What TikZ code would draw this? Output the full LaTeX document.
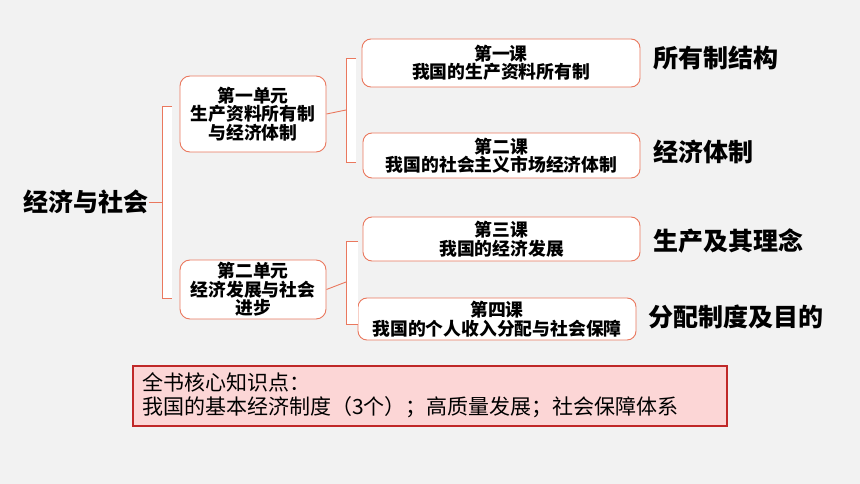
\documentclass[tikz,border=0pt]{standalone}
\usepackage{fontspec}
\setmainfont{Noto Sans CJK SC}
\definecolor{bg}{RGB}{242,242,242}
\definecolor{edge}{RGB}{234,120,94}
\definecolor{sumfill}{RGB}{252,214,214}
\definecolor{sumedge}{RGB}{192,40,40}
\tikzset{
  unitbox/.style={draw=edge, line width=0.9pt, fill=white, rounded corners=10pt,
    inner sep=0pt, align=center, font=\bfseries\fontsize{17.8}{18.5}\selectfont},
  lessonbox/.style={draw=edge, line width=0.9pt, fill=white, rounded corners=9pt,
    inner sep=0pt, align=center, font=\bfseries\fontsize{17.8}{18.5}\selectfont},
  biglabel/.style={anchor=west, inner sep=0pt, font=\bfseries\fontsize{25}{25}\selectfont},
  brace/.style={draw=edge, line width=0.9pt, fill=white},
  tipline/.style={draw=edge, line width=0.9pt},
}
\begin{document}
\begin{tikzpicture}[x=1pt,y=-1pt]
\fill[bg] (0,0) rectangle (860,484);
\useasboundingbox (0,0) rectangle (860,484);

% root
\node[biglabel, anchor=center] (root) at (86,202) {经济与社会};

% units
\node[unitbox, minimum width=146pt, minimum height=76pt] (u1) at (253,114) {第一单元\\生产资料所有制\\与经济体制};
\node[unitbox, minimum width=146pt, minimum height=59pt] (u2) at (253,289.5) {第二单元\\经济发展与社会\\进步};

% lessons
\node[lessonbox, minimum width=278pt, minimum height=48pt] (l1) at (501,63) {第一课\\我国的生产资料所有制};
\node[lessonbox, minimum width=277pt, minimum height=45pt] (l2) at (501.5,155.5) {第二课\\我国的社会主义市场经济体制};
\node[lessonbox, minimum width=277pt, minimum height=44pt] (l3) at (501.5,239) {第三课\\我国的经济发展};
\node[lessonbox, minimum width=278pt, minimum height=42pt] (l4) at (497,319) {第四课\\我国的个人收入分配与社会保障};

% right labels
\node[biglabel] (k1) at (653,58) {所有制结构};
\node[biglabel] (k2) at (653,152) {经济体制};
\node[biglabel] (k3) at (653,241) {生产及其理念};
\node[biglabel] (k4) at (648,317) {分配制度及目的};

% brackets
\coordinate (t1) at (162,202);
\coordinate (a1) at (172,106);
\coordinate (z1) at (172,298);
\path[brace] (a1) -- (t1 |- a1) -- (t1 |- z1) -- (z1);
\draw[tipline] (root.east) -- (t1);

\coordinate (t2) at (346,110);
\coordinate (a2) at (356,58);
\coordinate (z2) at (356,162);
\path[brace] (a2) -- (t2 |- a2) -- (t2 |- z2) -- (z2);
\draw[tipline] (u1.east) -- (t2);

\coordinate (t3) at (346,282);
\coordinate (a3) at (358,241);
\coordinate (z3) at (358,324);
\path[brace] (a3) -- (t3 |- a3) -- (t3 |- z3) -- (z3);
\draw[tipline] (u2.east) -- (t3);

% summary box
\node[draw=sumedge, line width=1.5pt, fill=sumfill, minimum width=594pt, minimum height=60pt, inner sep=0pt] (sum) at (430,396) {};
\node[anchor=west, inner sep=0pt, align=left, font=\fontsize{21}{24}\selectfont] (sumtxt) at (142,395.5)
  {全书核心知识点：\\我国的基本经济制度（3个）；高质量发展；社会保障体系};
\end{tikzpicture}
\end{document}
